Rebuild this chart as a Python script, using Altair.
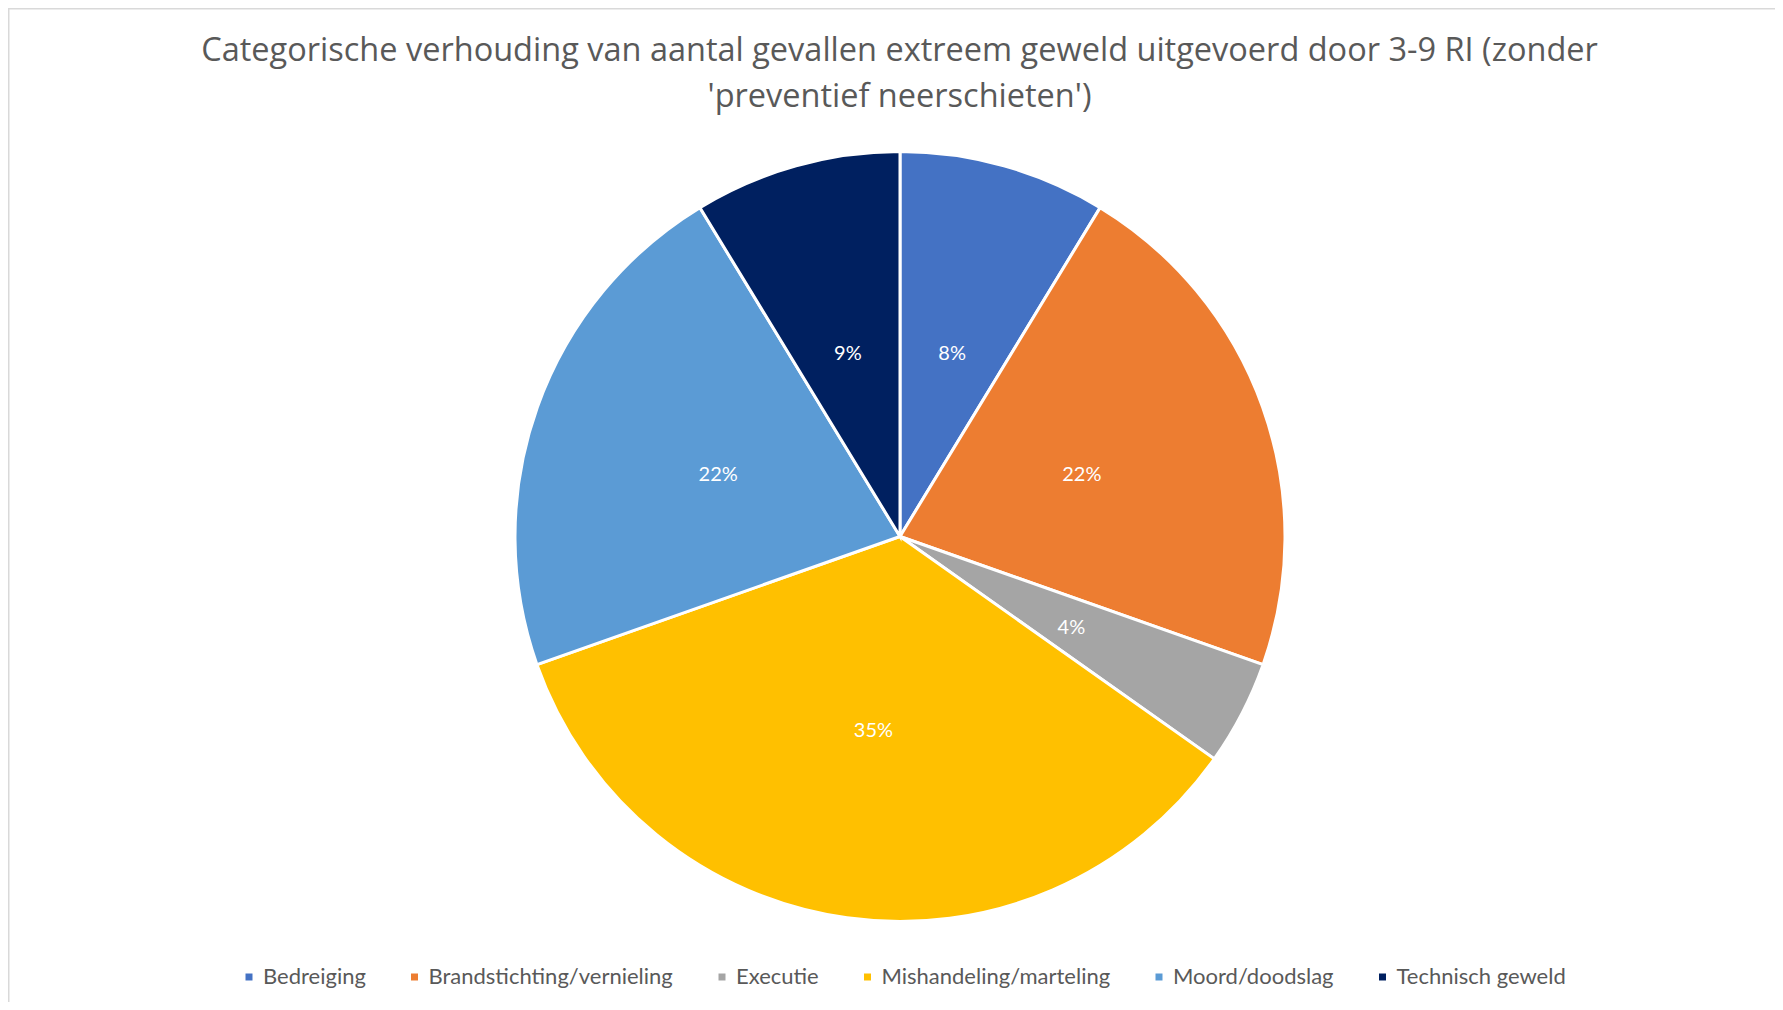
import altair as alt
import pandas as pd

# ---- data ----
categories = [
    "Bedreiging",
    "Brandstichting/vernieling",
    "Executie",
    "Mishandeling/marteling",
    "Moord/doodslag",
    "Technisch geweld",
]
shares = [8.7, 21.7, 4.4, 34.8, 21.7, 8.7]
pct_labels = ["8%", "22%", "4%", "35%", "22%", "9%"]
colors = ["#4472C4", "#ED7D31", "#A5A5A5", "#FFC000", "#5B9BD5", "#002060"]
title_lines = [
    "Categorische verhouding van aantal gevallen extreem geweld uitgevoerd door 3-9 RI (zonder",
    "'preventief neerschieten')",
]

df = pd.DataFrame(
    {
        "categorie": categories,
        "aandeel": shares,
        "label": pct_labels,
        "volgorde": list(range(len(categories))),
    }
)

W, H = 1767, 994
CX, CY = 892, 528.5
R = 385
FONT = "Lato"
GREY = "#595959"

base = alt.Chart(df).encode(
    theta=alt.Theta("aandeel:Q", stack=True),
    order=alt.Order("volgorde:Q", sort="ascending"),
)

pie = base.mark_arc(
    outerRadius=R, stroke="white", strokeWidth=3, x=CX, y=CY
).encode(
    color=alt.Color(
        "categorie:N",
        scale=alt.Scale(domain=categories, range=colors),
        legend=alt.Legend(
            title=None,
            orient="none",
            legendX=230,
            legendY=958,
            direction="horizontal",
            columns=6,
            symbolType="square",
            symbolSize=49,
            symbolStrokeWidth=0,
            labelFont=FONT,
            labelFontSize=22,
            labelColor=GREY,
            labelOffset=3,
            columnPadding=37.5,
            labelLimit=1000,
            padding=0,
        ),
    )
)

labels = base.mark_text(
    radius=193, x=CX, y=CY, dy=3, font=FONT, fontSize=20, color="white"
).encode(text="label:N")

one = pd.DataFrame({"k": [0]})
border_top = alt.Chart(one).mark_rule(color="#D9D9D9", strokeWidth=1.5).encode(
    x=alt.value(0), x2=alt.value(W), y=alt.value(0.75)
)
border_left = alt.Chart(one).mark_rule(color="#D9D9D9", strokeWidth=1.5).encode(
    x=alt.value(0.75), y=alt.value(0), y2=alt.value(H)
)

chart = (
    alt.layer(border_top, border_left, pie, labels)
    .properties(
        width=W,
        height=H,
        autosize=alt.AutoSizeParams(type="none"),
        padding=0,
        title=alt.TitleParams(
            title_lines,
            font="Open Sans",
            fontSize=32.5,
            fontWeight="normal",
            color=GREY,
            lineHeight=46,
            anchor="middle",
            baseline="top",
            offset=-106,
            dx=8,
        ),
    )
    .configure_view(stroke=None)
)

chart.save("out.html", embed_options={"renderer": "svg", "actions": False})
